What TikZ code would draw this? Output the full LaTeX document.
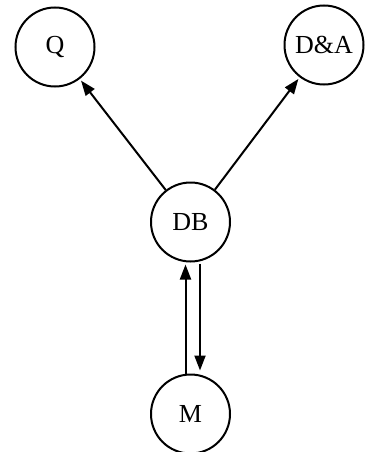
\documentclass[tikz,border=0pt]{standalone}
\usepackage{fontspec}
\setmainfont{Liberation Serif}
\usetikzlibrary{arrows.meta}
\begin{document}
\begin{tikzpicture}[x=1pt,y=-1pt,
  st/.style={circle,draw,line width=2pt,minimum size=79pt,inner sep=0pt,font=\fontsize{26}{26}\selectfont},
  arr/.style={line width=2pt,shorten >=2pt,-{Triangle[length=15pt,width=11pt]}}]
\useasboundingbox (0,0) rectangle (364,452);
\node[st] (Q) at (55,47) {Q};
\node[st] (DA) at (324,45) {D\&A};
\node[st] (DB) at (190.5,222) {DB};
\node[st] (M) at (190.5,414) {M};
\draw[arr] (DB) -- (Q);
\draw[arr] (DB) -- (DA);
\draw[arr] ([xshift=-5pt]M.north) -- ([xshift=-5pt]DB.south);
\draw[arr] ([xshift=9.5pt,yshift=-1pt]DB.south) -- ([xshift=9.5pt,yshift=1pt]M.north);
\end{tikzpicture}
\end{document}
